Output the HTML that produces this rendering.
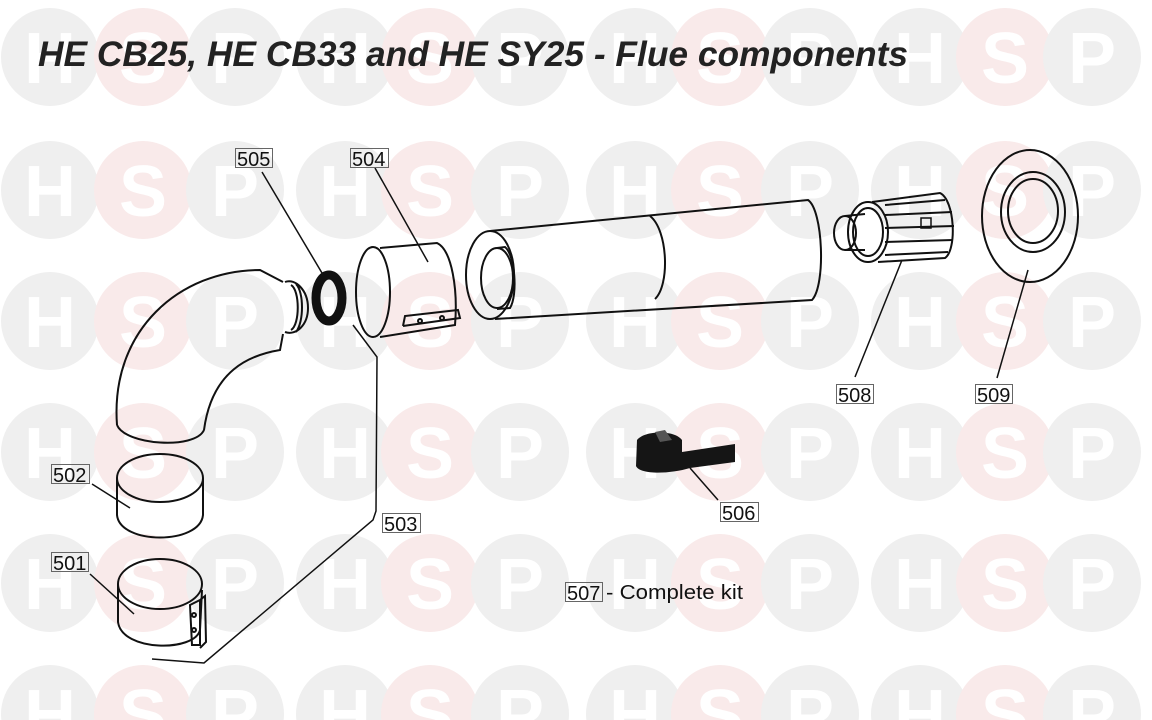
<!DOCTYPE html>
<html><head><meta charset="utf-8"><style>
html,body{margin:0;padding:0;background:#fff;}
body{width:1152px;height:720px;overflow:hidden;position:relative;}
svg{position:absolute;left:0;top:0;}
.t{font-family:"Liberation Sans",sans-serif;}
</style></head><body>
<svg width="1152" height="720" viewBox="0 0 1152 720" xmlns="http://www.w3.org/2000/svg" overflow="hidden">
<g id="wm" font-family="Liberation Sans, sans-serif" font-weight="bold" font-size="72" fill="#fff" text-anchor="middle">
</g>
<script>
(function(){
var g=document.getElementById('wm');var ns='http://www.w3.org/2000/svg';
var cols=[[50,'H'],[143,'S'],[235,'P'],[345,'H'],[430,'S'],[520,'P'],[635,'H'],[720,'S'],[810,'P'],[920,'H'],[1005,'S'],[1092,'P']];
var rows=[57,190,321,452,583,714];
rows.forEach(function(y){cols.forEach(function(c){
 var ci=document.createElementNS(ns,'circle');ci.setAttribute('cx',c[0]);ci.setAttribute('cy',y);ci.setAttribute('r',49);
 ci.setAttribute('fill',c[1]=='S'?'#f9eaea':'#efefef');g.appendChild(ci);});
 cols.forEach(function(c){var t=document.createElementNS(ns,'text');t.setAttribute('x',c[0]);t.setAttribute('y',y+26);t.textContent=c[1];g.appendChild(t);});});
})();
</script>
<text x="38" y="66" font-family="Liberation Sans, sans-serif" font-weight="bold" font-style="italic" font-size="35" fill="#222" textLength="870" lengthAdjust="spacingAndGlyphs">HE CB25, HE CB33 and HE SY25 - Flue components</text>

<g fill="none" stroke="#111" stroke-width="2">
<path d="M117,425 C110,330 180,270 260,270 L283,282 M283,334 L280,350 C250,355 212,370 204,430 M117,425 C125,445 195,450 204,430"/>
<path d="M285,282 C295,278 308,290 308,308 C308,325 296,336 285,332 M291,285 C300,290 300,325 291,330 M296,284 C304,292 304,322 296,332"/>
<ellipse cx="329" cy="298" rx="13" ry="23" stroke-width="9"/>
<ellipse cx="373" cy="292" rx="17" ry="45"/>
<path d="M380,248 L437,243 C452,250 458,290 455,325 L380,337"/>
<path d="M403,326 L405,316 L458,310 L460,318 L403,326"/>
<circle cx="420" cy="321" r="2"/><circle cx="442" cy="318" r="2"/>
<ellipse cx="490" cy="275" rx="24" ry="44"/>
<ellipse cx="497" cy="278" rx="16" ry="30"/>
<path d="M497,248 L505,247 C515,255 518,295 510,308 L497,309"/>
<path d="M490,231 L808,200 C823,210 826,285 812,300 L495,319"/>
<path d="M650,216 C668,230 670,285 655,299"/>
<ellipse cx="845" cy="233" rx="11" ry="17"/>
<ellipse cx="868" cy="232" rx="20" ry="30"/>
<ellipse cx="868" cy="232" rx="15" ry="24"/>
<path d="M845,216 L865,214 M845,250 L865,250"/>
<path d="M872,202 L940,193 C955,200 957,250 945,258 L878,262"/>
<path d="M885,205 L945,200 M885,215 L952,212 M885,228 L954,226 M885,242 L953,240 M885,255 L948,252"/>
<rect x="921" y="218" width="10" height="10" stroke-width="1.5"/>
<ellipse cx="1030" cy="216" rx="48" ry="66"/>
<ellipse cx="1033" cy="212" rx="32" ry="40"/>
<ellipse cx="1033" cy="211" rx="25" ry="32"/>
<ellipse cx="160" cy="478" rx="43" ry="24"/>
<path d="M117,478 L117,515 C120,545 200,545 203,515 L203,478"/>
<ellipse cx="160" cy="584" rx="42" ry="25"/>
<path d="M118,584 L118,622 C122,652 195,652 200,630 L202,590"/>
<path d="M190,605 L200,600 L200,645 L192,645 Z M200,600 L205,596 L206,642 L200,648"/>
<circle cx="194" cy="615" r="2"/><circle cx="194" cy="630" r="2"/>
</g>
<path d="M637,440 C645,430 675,430 682,440 L682,452 L735,444 L735,462 L690,468 C670,474 640,475 636,466 Z" fill="#151515"/>
<path d="M655,432 L665,430 L672,440 L660,442 Z" fill="#555"/>
<g fill="none" stroke="#111" stroke-width="1.5">
<path d="M262,172 L322,273"/>
<path d="M375,168 L428,262"/>
<path d="M353,325 L377,357 L376,511 L373,520 L204,663 L152,659"/>
<path d="M92,484 L130,508"/>
<path d="M90,574 L134,614"/>
<path d="M902,260 L855,377"/>
<path d="M1028,270 L997,378"/>
<path d="M690,468 L718,500"/>
</g>
<g class="t" font-size="20" fill="#111">
<g fill="none" stroke="#666" stroke-width="1">
<rect x="235.5" y="148.5" width="37" height="19"/>
<rect x="350.5" y="148.5" width="38" height="19"/>
<rect x="836.5" y="384.5" width="37" height="19"/>
<rect x="975.5" y="384.5" width="37" height="19"/>
<rect x="51.5" y="464.5" width="38" height="19"/>
<rect x="51.5" y="552.5" width="37" height="19"/>
<rect x="382.5" y="513.5" width="38" height="19"/>
<rect x="720.5" y="502.5" width="38" height="19"/>
<rect x="565.5" y="582.5" width="37" height="19"/>
</g>
<text x="237" y="166">505</text>
<text x="352" y="166">504</text>
<text x="838" y="402">508</text>
<text x="977" y="402">509</text>
<text x="53" y="482">502</text>
<text x="53" y="570">501</text>
<text x="384" y="531">503</text>
<text x="722" y="520">506</text>
<text x="567" y="600">507</text>
<text x="606" y="599" font-size="20" textLength="137" lengthAdjust="spacingAndGlyphs">- Complete kit</text>
</g>
</svg>
</body></html>
